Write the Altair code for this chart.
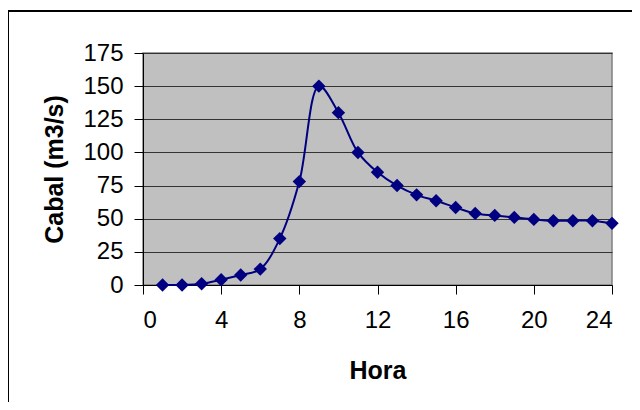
import altair as alt
import pandas as pd

hora = list(range(1, 25))
cabal = [0, 0, 1, 4, 7.5, 12, 35, 78, 150, 130, 100, 85, 75, 68, 63.5, 58.5,
         54, 52.5, 51, 49.5, 48.5, 48.5, 48.5, 46.5]
x_ticks = [0, 4, 8, 12, 16, 20, 24]
y_ticks = [0, 25, 50, 75, 100, 125, 150, 175]

df = pd.DataFrame({"Hora": hora, "Cabal": cabal})

FONT = "Liberation Sans"
NAVY = "#000080"

line = alt.Chart(df).mark_line(
    interpolate="catmull-rom", color=NAVY, strokeWidth=2,
    point=alt.OverlayMarkDef(shape="diamond", size=180, filled=True, color=NAVY, opacity=1),
).encode(
    x=alt.X("Hora:Q", title="Hora",
            scale=alt.Scale(domain=[0, 24], nice=False, zero=False),
            axis=alt.Axis(values=x_ticks, grid=False, labelPadding=14, titlePadding=26,
                          format="d")),
    y=alt.Y("Cabal:Q", title="Cabal (m3/s)",
            scale=alt.Scale(domain=[0, 175], nice=False),
            axis=alt.Axis(values=y_ticks, grid=True, labelPadding=11, titlePadding=15,
                          format="d")),
)

frame_left = alt.Chart(df).mark_rule(color="black", strokeWidth=1).encode(
    x=alt.value(-134.5), y=alt.value(-42), y2=alt.value(400)
)
frame_top = alt.Chart(df).mark_rule(color="black", strokeWidth=1).encode(
    x=alt.value(-134.5), x2=alt.value(600), y=alt.value(-42)
)

chart = alt.layer(frame_left, frame_top, line).properties(
    width=469, height=232,
    autosize=alt.AutoSizeParams(type="none"),
    padding={"left": 135, "top": 45, "right": 20, "bottom": 117},
    background="white",
).configure_view(
    fill="#C0C0C0", stroke="#808080", strokeWidth=1.5
).configure_axis(
    domainColor="black", tickColor="black", tickSize=9, domainWidth=1, tickWidth=1,
    gridColor="#333333", gridWidth=1, gridOpacity=1,
    labelFont=FONT, labelFontSize=24, labelColor="black",
    titleFont=FONT, titleFontSize=25, titleFontWeight="bold", titleColor="black",
)

chart.save("out.html", embed_options={"renderer": "svg", "actions": False})
